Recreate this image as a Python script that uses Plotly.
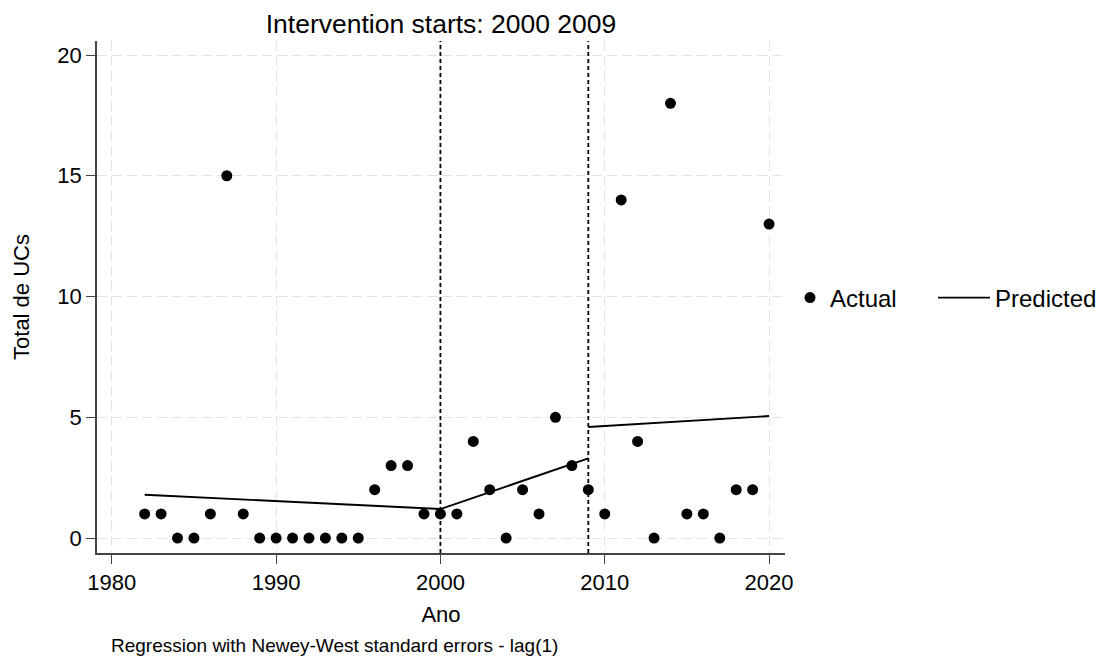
import plotly.graph_objects as go

# ---- data ----
years = list(range(1982, 2021))
actual = [1, 1, 0, 0, 1, 15, 1, 0, 0, 0, 0, 0, 0, 0, 2, 3, 3, 1, 1, 1,
          4, 2, 0, 2, 1, 5, 3, 2, 1, 14, 4, 0, 18, 1, 1, 0, 2, 2, 13]
pred_x = [1982, 2000, 2009, None, 2009, 2020]
pred_y = [1.79, 1.2, 3.3, None, 4.6, 5.05]
interventions = [2000, 2009]
x_ticks = [1980, 1990, 2000, 2010, 2020]
y_ticks = [0, 5, 10, 15, 20]

FONT = "Liberation Sans, Arial, Helvetica, sans-serif"

fig = go.Figure()
fig.add_trace(go.Scatter(
    x=years, y=actual, mode="markers", name="Actual", legend="legend",
    marker=dict(color="black", size=11, line=dict(width=0)),
))
fig.add_trace(go.Scatter(
    x=pred_x, y=pred_y, mode="lines", name="Predicted", legend="legend2",
    line=dict(color="black", width=1.9), connectgaps=False,
))

for yr in interventions:
    fig.add_shape(type="line", x0=yr, x1=yr, xref="x", y0=0, y1=1, yref="paper",
                  line=dict(color="black", width=1.8, dash="4px,3px"), layer="above")

axis_common = dict(
    showline=True, linecolor="#444444", linewidth=1.5,
    ticks="outside", ticklen=9, tickwidth=1.3, tickcolor="#444444",
    showgrid=True, gridcolor="#e3e3e3", gridwidth=1.3, griddash="10px,5px",
    zeroline=False, tickfont=dict(size=22, color="black", family=FONT),
)

legend_common = dict(orientation="h", xanchor="left", y=0.498, yanchor="middle",
                     font=dict(size=24, color="black", family=FONT),
                     bgcolor="rgba(0,0,0,0)")

fig.update_layout(
    width=1113, height=657,
    margin=dict(l=97, r=327, t=41, b=104),
    paper_bgcolor="white", plot_bgcolor="white",
    font=dict(family=FONT, color="black"),
    title=dict(text="Intervention starts: 2000 2009", x=0.5, xref="paper",
               y=1 - 24 / 657, yref="container", yanchor="middle", xanchor="center",
               font=dict(size=26.5, color="black", family=FONT)),
    xaxis=dict(range=[1979.1, 2020.97], tickvals=x_ticks,
               title=dict(text="Ano", font=dict(size=22, color="black"), standoff=12),
               **axis_common),
    yaxis=dict(range=[-0.62, 20.58], tickvals=y_ticks,
               title=dict(text="Total de UCs", font=dict(size=22, color="black"), standoff=22),
               **axis_common),
    legend=dict(x=(790 - 97) / 689, itemwidth=30, **legend_common),
    legend2=dict(x=(933 - 97) / 689, itemwidth=52, **legend_common),
    showlegend=True,
)

fig.add_annotation(
    text="Regression with Newey-West standard errors - lag(1)",
    xref="paper", yref="paper", x=(109 - 97) / 689, y=(553 - 645) / 512,
    xanchor="left", yanchor="middle", showarrow=False,
    font=dict(size=19, color="black", family=FONT),
)

fig.write_html("out.html")
